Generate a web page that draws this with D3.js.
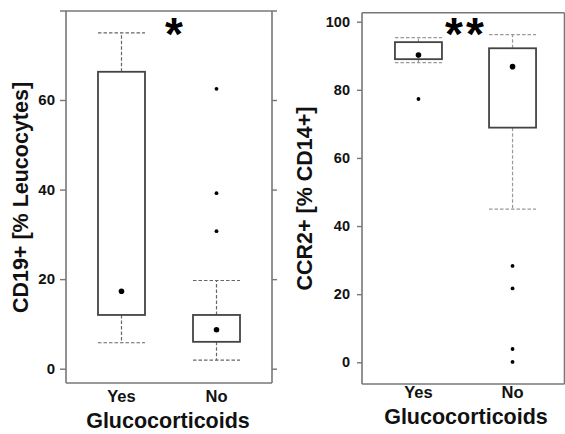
<!DOCTYPE html>
<html>
<head>
<meta charset="utf-8">
<script src="https://cdn.jsdelivr.net/npm/d3@7"></script>
<style>
  body { margin: 0; background: #fff; }
  svg { display: block; font-family: "Liberation Sans", Arial, sans-serif; font-weight: bold; }
</style>
</head>
<body>
<div id="chart"></div>
<script>
// group labels on the x axis
const groups = ['Yes', 'No'];

// CD19+ panel (left)
const cd19Ticks = [0, 20, 40, 60];
const cd19WhiskerLo = [5.8, 1.9];
const cd19Q1 = [12.0, 6.0];
const cd19Q3 = [66.3, 12.0];
const cd19WhiskerHi = [75.0, 19.7];
const cd19Center = [17.3, 8.7];
const cd19Outliers = [[], [62.5, 39.2, 30.7]];

// CCR2+ panel (right)
const ccr2Ticks = [0, 20, 40, 60, 80, 100];
const ccr2WhiskerLo = [88.0, 45.0];
const ccr2Q1 = [89.0, 68.9];
const ccr2Q3 = [94.0, 92.2];
const ccr2WhiskerHi = [95.3, 96.2];
const ccr2Center = [90.2, 86.8];
const ccr2Outliers = [[77.3], [28.3, 21.7, 3.9, 0.1]];

const svg = d3.select('#chart').append('svg')
    .attr('width', 565)
    .attr('height', 434);

function drawPanel(p) {
    const g = svg.append('g');

    const y = d3.scaleLinear().domain(p.yDomain).range(p.yRange);
    const x = d3.scalePoint().domain(groups).range(p.xRange).padding(p.xPad);

    const rows = groups.map((k, i) => ({
        key: k, lo: p.lo[i], q1: p.q1[i], q3: p.q3[i], hi: p.hi[i],
        mid: p.center[i], out: p.outliers[i]
    }));

    // frame
    const frame = g.append('g').attr('stroke', '#777').attr('stroke-width', 1.6).attr('fill', 'none');
    frame.append('line').attr('x1', p.topFrom).attr('x2', p.topTo).attr('y1', p.top).attr('y2', p.top);
    frame.append('line').attr('x1', p.left).attr('x2', p.left).attr('y1', p.top).attr('y2', p.bottom);
    frame.append('line').attr('x1', p.left).attr('x2', p.right).attr('y1', p.bottom).attr('y2', p.bottom);
    frame.append('line').attr('x1', p.right).attr('x2', p.right).attr('y1', p.top).attr('y2', p.bottom);

    // left axis
    const ax = g.append('g')
        .attr('transform', `translate(${p.left},0)`)
        .call(d3.axisLeft(y).tickValues(p.ticks).tickSize(p.tickLen).tickPadding(p.tickPad));
    ax.select('.domain').remove();
    ax.selectAll('line').attr('stroke', '#777').attr('stroke-width', 1.4);
    ax.selectAll('text')
        .attr('fill', '#111')
        .style('font-size', p.tickFont + 'px')
        .style('font-weight', 'bold')
        .style('font-family', '"Liberation Sans", Arial, sans-serif');

    if (p.rightTicks) {
        const rx = g.append('g')
            .attr('transform', `translate(${p.right},0)`)
            .call(d3.axisRight(y).tickValues(p.ticks).tickSize(5).tickFormat(''));
        rx.select('.domain').remove();
        rx.selectAll('line').attr('stroke', '#777').attr('stroke-width', 1.4);
    }

    const bw = p.boxWidth;

    // whiskers
    const wk = g.append('g').attr('stroke', p.whiskerColor).attr('stroke-width', 1.2)
        .attr('stroke-dasharray', '3.5,2');
    wk.selectAll('.wu').data(rows).enter().append('line')
        .attr('x1', d => x(d.key)).attr('x2', d => x(d.key))
        .attr('y1', d => y(d.q3)).attr('y2', d => y(d.hi));
    wk.selectAll('.wl').data(rows).enter().append('line')
        .attr('x1', d => x(d.key)).attr('x2', d => x(d.key))
        .attr('y1', d => y(d.q1)).attr('y2', d => y(d.lo));
    wk.selectAll('.cu').data(rows).enter().append('line')
        .attr('x1', d => x(d.key) - bw / 2).attr('x2', d => x(d.key) + bw / 2)
        .attr('y1', d => y(d.hi)).attr('y2', d => y(d.hi));
    wk.selectAll('.cl').data(rows).enter().append('line')
        .attr('x1', d => x(d.key) - bw / 2).attr('x2', d => x(d.key) + bw / 2)
        .attr('y1', d => y(d.lo)).attr('y2', d => y(d.lo));

    // boxes
    g.selectAll('.box').data(rows).enter().append('rect')
        .attr('x', d => x(d.key) - bw / 2)
        .attr('y', d => y(d.q3))
        .attr('width', bw)
        .attr('height', d => y(d.q1) - y(d.q3))
        .attr('fill', 'none')
        .attr('stroke', '#444')
        .attr('stroke-width', 1.8);

    // center dots
    g.selectAll('.mid').data(rows).enter().append('circle')
        .attr('cx', d => x(d.key)).attr('cy', d => y(d.mid))
        .attr('r', 2.8).attr('fill', '#000');

    // outliers
    rows.forEach(d => {
        g.selectAll(null).data(d.out).enter().append('circle')
            .attr('cx', x(d.key)).attr('cy', v => y(v))
            .attr('r', 1.9).attr('fill', '#000');
    });

    // x tick labels
    g.selectAll('.xl').data(groups).enter().append('text')
        .attr('x', d => x(d)).attr('y', p.xLabelY)
        .attr('text-anchor', 'middle')
        .attr('font-size', 16.5).attr('fill', '#111')
        .text(d => d);

    // axis titles
    g.append('text')
        .attr('x', p.xTitleX).attr('y', p.xTitleY)
        .attr('text-anchor', 'middle')
        .attr('font-size', 21.5).attr('fill', '#111')
        .text('Glucocorticoids');

    g.append('text')
        .attr('transform', 'rotate(-90)')
        .attr('x', -p.yTitleCenter).attr('y', p.yTitleX)
        .attr('text-anchor', 'middle')
        .attr('font-size', 21.5).attr('fill', '#111')
        .text(p.yTitle);

    // significance stars
    g.append('text')
        .attr('x', p.starX).attr('y', 50)
        .attr('text-anchor', 'middle')
        .attr('font-size', 46).attr('fill', '#000')
        .attr('letter-spacing', p.stars.length > 1 ? 3 : 0)
        .text(p.stars);
}

drawPanel({
    ticks: cd19Ticks, lo: cd19WhiskerLo, q1: cd19Q1, q3: cd19Q3, hi: cd19WhiskerHi,
    center: cd19Center, outliers: cd19Outliers,
    yDomain: [0, 60], yRange: [368.7, 100],
    xRange: [66, 272], xPad: 0.584, boxWidth: 47,
    left: 66, right: 272, top: 11, bottom: 383, topFrom: 60, topTo: 277,
    tickLen: 6, tickPad: 5, tickFont: 15, rightTicks: true,
    whiskerColor: '#666',
    xLabelY: 402, xTitleX: 168, xTitleY: 428,
    yTitle: 'CD19+ [% Leucocytes]', yTitleCenter: 197.5, yTitleX: 28,
    stars: '*', starX: 174
});

drawPanel({
    ticks: ccr2Ticks, lo: ccr2WhiskerLo, q1: ccr2Q1, q3: ccr2Q3, hi: ccr2WhiskerHi,
    center: ccr2Center, outliers: ccr2Outliers,
    yDomain: [0, 100], yRange: [362.3, 21.7],
    xRange: [362, 569], xPad: 0.6, boxWidth: 47,
    left: 362, right: 564.5, top: 12.7, bottom: 384, topFrom: 362, topTo: 564.5,
    tickLen: 5, tickPad: 7, tickFont: 14.5, rightTicks: false,
    whiskerColor: '#999',
    xLabelY: 398, xTitleX: 466, xTitleY: 424,
    yTitle: 'CCR2+ [% CD14+]', yTitleCenter: 198.5, yTitleX: 312,
    stars: '**', starX: 466
});
</script>
</body>
</html>
